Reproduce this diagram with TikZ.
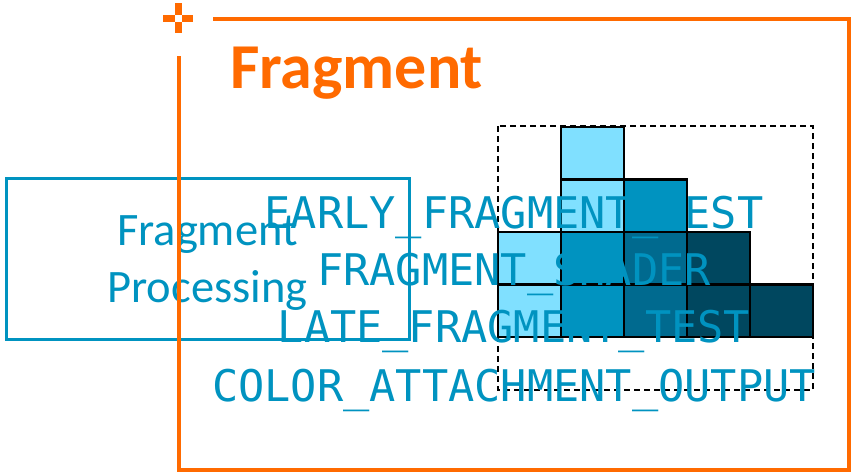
\documentclass[tikz,border=0pt]{standalone}
\usepackage{fontspec}
\setmainfont{Carlito}
\newfontfamily\monof{DejaVu Sans Mono}
\definecolor{fragorange}{HTML}{FF6A00}
\definecolor{fragblue}{HTML}{0093C0}
\definecolor{celllight}{HTML}{80E0FF}
\definecolor{cellmid}{HTML}{0093C0}
\definecolor{celldark}{HTML}{006A8F}
\definecolor{celldarkest}{HTML}{00475F}
\tikzset{
  cellbox/.style={draw=black, line width=2.5pt},
  dashbox/.style={draw=black, line width=2.3pt, dash pattern=on 6pt off 4pt},
  monotext/.style={text=fragblue, font=\monof\fontsize{43.6}{50}\selectfont, inner sep=0pt, anchor=base},
  sanstext/.style={text=fragblue, font=\fontsize{46.5}{50}\selectfont, inner sep=0pt, anchor=base},
  titletext/.style={text=fragorange, font=\bfseries\fontsize{64}{70}\selectfont, inner sep=0pt, anchor=base west},
  procbox/.style={draw=fragblue, line width=3pt, minimum width=403pt, minimum height=161pt, inner sep=0pt},
  orangeline/.style={draw=fragorange, line width=4pt, line join=miter},
}
\newcommand\cellat[3]{\filldraw[cellbox, fill=#3] ({498+63*#1},{127+52.5*#2}) rectangle ++(63,52.5);}
\begin{document}
\begin{tikzpicture}[x=1pt,y=-1pt]
\useasboundingbox[fill=white] (0,0) rectangle (854,472);
% dashed frame
\draw[dashbox] (498,126) rectangle (813,390);
% cells
\cellat{1}{0}{celllight}
\cellat{1}{1}{celllight}
\cellat{2}{1}{cellmid}
\cellat{0}{2}{celllight}
\cellat{1}{2}{cellmid}
\cellat{2}{2}{celldark}
\cellat{3}{2}{celldarkest}
\cellat{0}{3}{celllight}
\cellat{1}{3}{cellmid}
\cellat{2}{3}{celldark}
\cellat{3}{3}{celldarkest}
\cellat{4}{3}{celldarkest}
% processing box
\node[procbox] (proc) at (207.5,258.5) {};
\node[sanstext] (frag) at (207.5,245) {Fragment};
\node[sanstext] (processing) at (207.5,302) {Processing};
% stage names
\node[monotext] (early) at (514,228) {EARLY\_FRAGMENT\_TEST};
\node[monotext] (shader) at (514,285) {FRAGMENT\_SHADER};
\node[monotext] (late) at (514,342) {LATE\_FRAGMENT\_TEST};
\node[monotext] (color) at (514,401) {COLOR\_ATTACHMENT\_OUTPUT};
% orange frame
\draw[orangeline] (213,18.5) -- (849,18.5) -- (849,469.5) -- (179,469.5) -- (179,56);
\node[titletext] (title) at (230,88) {Fragment};
% cross icon
\fill[fragorange] (163,14.5) rectangle (175,21.5);
\fill[fragorange] (182,14.5) rectangle (193,21.5);
\fill[fragorange] (175,3) rectangle (182,14.5);
\fill[fragorange] (175,21.5) rectangle (182,33);
\end{tikzpicture}
\end{document}
